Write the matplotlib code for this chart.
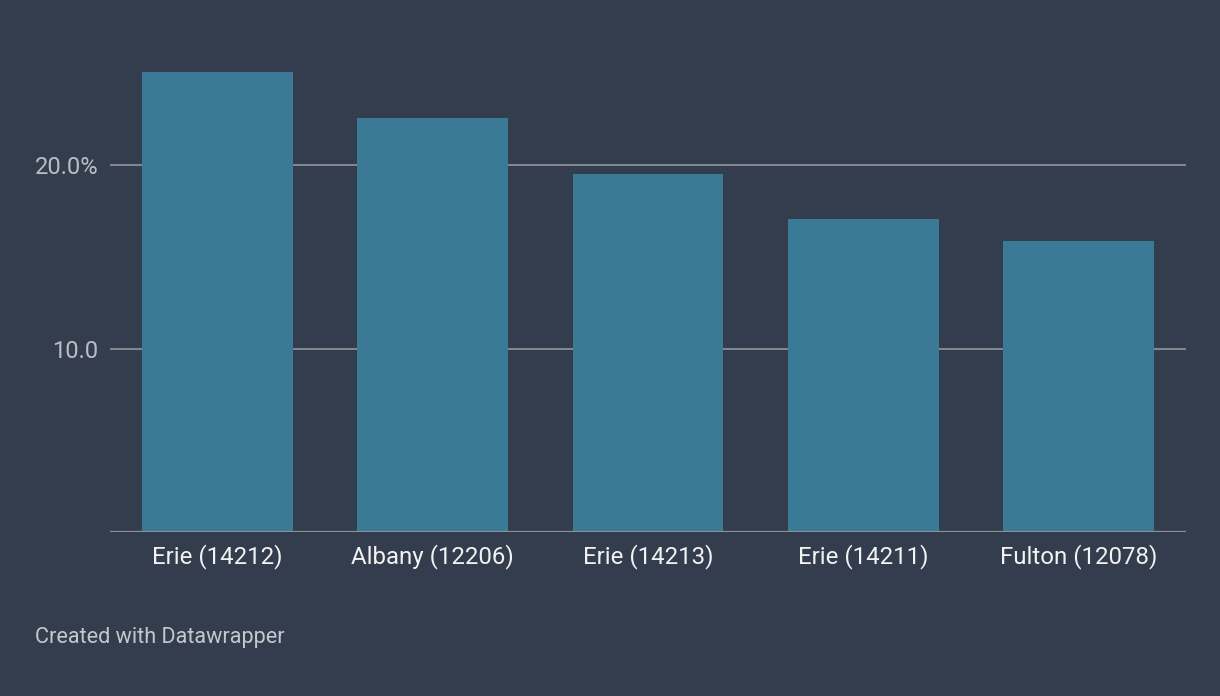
import matplotlib
matplotlib.use("Agg")
import matplotlib.pyplot as plt

categories = ["Erie (14212)", "Albany (12206)", "Erie (14213)", "Erie (14211)", "Fulton (12078)"]
values = [25.05, 22.55, 19.5, 17.05, 15.85]
ytick_values = [10, 20]
ytick_labels = ["10.0", "20.0%"]

BG = "#333D4D"
BAR = "#3A7A96"
GRID = "#8C8F94"

plt.rcParams['font.family'] = ['Roboto', 'DejaVu Sans']

fig = plt.figure(figsize=(12.2, 6.96), dpi=100, facecolor=BG)
W, H = 1220, 696
left, right = 110 / W, 1186 / W
bottom = (H - 532) / H
top_px = 36
ax = fig.add_axes([left, bottom, right - left, (532 - top_px) / H])
ax.set_facecolor(BG)

x = list(range(len(categories)))
ax.bar(x, values, width=0.70, color=BAR, zorder=2)
ax.set_xlim(-0.5, len(categories) - 0.5)
ax.set_ylim(0, (532 - top_px) / 18.35)

for v in ytick_values:
    ax.axhline(v, color=GRID, lw=1.3, zorder=1)
ax.axhline(0, color=GRID, lw=1.6, zorder=3)

ax.set_yticks(ytick_values)
ax.set_yticklabels(ytick_labels)
ax.set_xticks(x)
ax.set_xticklabels(categories)
ax.tick_params(axis='y', length=0, pad=8.6, labelsize=17, labelcolor="#B9BEC5")
ax.tick_params(axis='x', length=0, pad=9, labelsize=17.3, labelcolor="#F2F2F2")
for s in ax.spines.values():
    s.set_visible(False)

fig.text(35 / W, 1 - 638 / H, "Created with Datawrapper", fontsize=15.6, color="#C4C8CE",
         ha="left", va="center")

fig.savefig("out.png", dpi=100, facecolor=BG)
